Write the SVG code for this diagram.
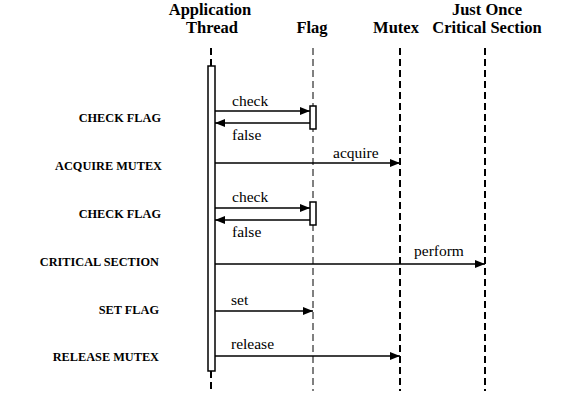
<svg xmlns="http://www.w3.org/2000/svg" width="579" height="403" viewBox="0 0 579 403">
<defs>
<marker id="ah" viewBox="0 0 10 8" refX="10" refY="4" markerWidth="10" markerHeight="8" markerUnits="userSpaceOnUse" orient="auto">
<path d="M0,0 L10,4 L0,8 Z" fill="#000"/>
</marker>
</defs>
<style>
.hdr{font-weight:bold;font-size:16.5px;text-anchor:middle;fill:#000}
.step{font-weight:bold;font-size:12.3px;text-anchor:end;fill:#000}
.msg{font-size:15.5px;fill:#000}
.life{stroke:#000;stroke-width:2;stroke-dasharray:7 4;fill:none}
.thin{stroke-width:1}
.act{fill:#fff;stroke:#000;stroke-width:1.5}
.arr{stroke:#000;stroke-width:1.6;fill:none;marker-end:url(#ah)}
</style>
<rect width="579" height="403" fill="#fff"/>
<g font-family="Liberation Serif, Times New Roman, serif">
<g id="app-thread">
<text class="hdr" x="210" y="15">Application</text>
<text class="hdr" x="212" y="33">Thread</text>
<line class="life" x1="211" y1="48" x2="211" y2="66"/>
<line class="life" x1="211" y1="371" x2="211" y2="391"/>
<rect class="act" x="208" y="66" width="7" height="305"/>
</g>
<g id="flag">
<text class="hdr" x="312" y="33">Flag</text>
<line class="life thin" x1="313" y1="48" x2="313" y2="391"/>
<rect class="act" x="310" y="106" width="6" height="23"/>
<rect class="act" x="310" y="202" width="6" height="23"/>
</g>
<g id="mutex">
<text class="hdr" x="396" y="33">Mutex</text>
<line class="life" x1="400" y1="48" x2="400" y2="391"/>
</g>
<g id="critical-section">
<text class="hdr" x="487" y="15">Just Once</text>
<text class="hdr" x="487" y="33">Critical Section</text>
<line class="life" x1="485" y1="48" x2="485" y2="391"/>
</g>
<g id="steps">
<text class="step" x="161" y="122">CHECK FLAG</text>
<text class="step" x="162" y="170">ACQUIRE MUTEX</text>
<text class="step" x="161" y="218">CHECK FLAG</text>
<text class="step" x="159" y="266">CRITICAL SECTION</text>
<text class="step" x="159" y="314">SET FLAG</text>
<text class="step" x="159" y="361">RELEASE MUTEX</text>
</g>
<g id="connectors">
<line class="arr" x1="215" y1="111" x2="310" y2="111"/>
<text class="msg" x="232" y="106">check</text>
<line class="arr" x1="310" y1="123" x2="215" y2="123"/>
<text class="msg" x="232" y="140">false</text>
<line class="arr" x1="215" y1="163" x2="400" y2="163"/>
<text class="msg" x="333" y="158">acquire</text>
<line class="arr" x1="215" y1="208" x2="310" y2="208"/>
<text class="msg" x="232" y="202">check</text>
<line class="arr" x1="310" y1="220" x2="215" y2="220"/>
<text class="msg" x="232" y="237">false</text>
<line class="arr" x1="215" y1="264" x2="485" y2="264"/>
<text class="msg" x="414" y="256">perform</text>
<line class="arr" x1="215" y1="311" x2="313" y2="311"/>
<text class="msg" x="231" y="305">set</text>
<line class="arr" x1="215" y1="356" x2="400" y2="356"/>
<text class="msg" x="231" y="349">release</text>
</g>
</g>
</svg>
